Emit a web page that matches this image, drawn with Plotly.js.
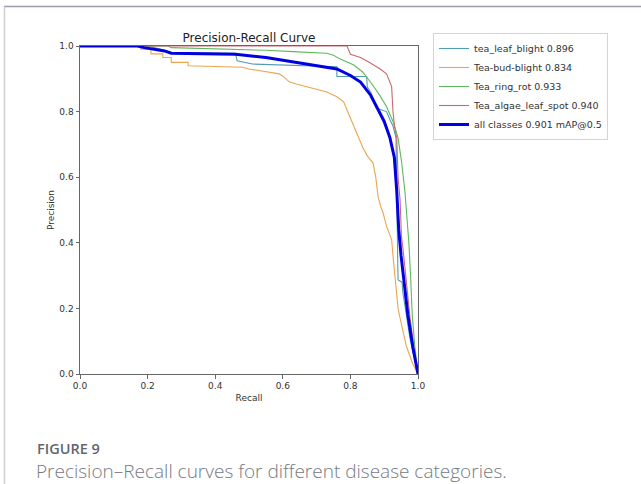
<!DOCTYPE html>
<html>
<head>
<meta charset="utf-8">
<script src="https://cdn.plot.ly/plotly-3.0.1.min.js"></script>
<style>
html,body{margin:0;padding:0;background:#fff;}
#chart{width:641px;height:484px;}
</style>
</head>
<body>
<div id="chart"></div>
<script>
// ---- data ----
var leafBlightRecall = [0, 0.2, 0.24, 0.27, 0.46, 0.465, 0.51, 0.63, 0.67, 0.76, 0.76, 0.848, 0.85, 0.86, 0.877, 0.907, 0.917, 0.926, 0.935, 0.937, 0.94, 0.941, 0.953, 0.955, 0.976, 1.0];
var leafBlightPrecision = [1.0, 1.0, 0.99, 0.98, 0.978, 0.955, 0.945, 0.942, 0.94, 0.937, 0.907, 0.907, 0.875, 0.86, 0.81, 0.80, 0.775, 0.756, 0.72, 0.48, 0.35, 0.287, 0.28, 0.25, 0.11, 0.0];

var budBlightRecall = [0, 0.18, 0.18, 0.21, 0.21, 0.245, 0.245, 0.27, 0.27, 0.32, 0.32, 0.48, 0.50, 0.53, 0.56, 0.59, 0.60, 0.62, 0.64, 0.67, 0.70, 0.73, 0.76, 0.78, 0.79, 0.80, 0.81, 0.825, 0.837, 0.85, 0.867, 0.875, 0.882, 0.89, 0.897, 0.907, 0.915, 0.922, 0.926, 0.932, 0.937, 0.941, 0.947, 0.955, 0.966, 0.985, 1.0];
var budBlightPrecision = [1.0, 1.0, 0.99, 0.99, 0.976, 0.976, 0.965, 0.965, 0.95, 0.95, 0.94, 0.935, 0.93, 0.925, 0.92, 0.915, 0.908, 0.89, 0.884, 0.876, 0.868, 0.86, 0.845, 0.83, 0.805, 0.78, 0.754, 0.72, 0.69, 0.665, 0.643, 0.60, 0.54, 0.51, 0.49, 0.45, 0.43, 0.41, 0.36, 0.30, 0.25, 0.20, 0.17, 0.13, 0.083, 0.03, 0.0];

var ringRotRecall = [0, 0.26, 0.27, 0.47, 0.55, 0.63, 0.71, 0.73, 0.75, 0.77, 0.81, 0.837, 0.863, 0.888, 0.907, 0.926, 0.941, 0.951, 0.961, 0.968, 0.973, 0.978, 0.983, 0.99, 1.0];
var ringRotPrecision = [1.0, 1.0, 0.995, 0.99, 0.987, 0.983, 0.98, 0.978, 0.972, 0.96, 0.942, 0.92, 0.885, 0.848, 0.815, 0.77, 0.72, 0.65, 0.56, 0.48, 0.40, 0.30, 0.18, 0.09, 0.0];

var algaeRecall = [0, 0.79, 0.80, 0.83, 0.858, 0.888, 0.907, 0.92, 0.922, 0.926, 0.93, 0.937, 0.941, 0.947, 0.951, 0.956, 0.966, 0.976, 0.988, 1.0];
var algaePrecision = [1.0, 1.0, 0.975, 0.965, 0.949, 0.93, 0.915, 0.88, 0.876, 0.80, 0.76, 0.72, 0.60, 0.53, 0.42, 0.378, 0.28, 0.175, 0.08, 0.0];

var allRecall = [0, 0.17, 0.19, 0.22, 0.25, 0.27, 0.46, 0.55, 0.63, 0.70, 0.76, 0.80, 0.83, 0.86, 0.88, 0.90, 0.917, 0.93, 0.937, 0.943, 0.95, 0.96, 0.97, 0.985, 1.0];
var allPrecision = [1.0, 1.0, 0.995, 0.99, 0.985, 0.978, 0.975, 0.965, 0.952, 0.942, 0.93, 0.91, 0.89, 0.85, 0.81, 0.77, 0.72, 0.66, 0.56, 0.44, 0.36, 0.27, 0.18, 0.08, 0.0];

var seriesNames = ["tea_leaf_blight 0.896", "Tea-bud-blight 0.834", "Tea_ring_rot 0.933", "Tea_algae_leaf_spot 0.940", "all classes 0.901 mAP@0.5"];
var xTicks = [0, 0.2, 0.4, 0.6, 0.8, 1.0];
var xTickText = ["0.0", "0.2", "0.4", "0.6", "0.8", "1.0"];
var yTicks = [0, 0.2, 0.4, 0.6, 0.8, 1.0];
var yTickText = ["0.0", "0.2", "0.4", "0.6", "0.8", "1.0"];

// ---- figure ----
var W = 641, H = 484;
var L = 80, R = 223, T = 46, B = 110;
var pw = W - L - R, ph = H - T - B;
function px(x){ return (x - L) / pw; }
function py(y){ return (H - B - y) / ph; }

var colors = ["#519cb0", "#eaa64e", "#5fb85f", "#c86a70", "#0000e0"];
var xs = [leafBlightRecall, budBlightRecall, ringRotRecall, algaeRecall, allRecall];
var ys = [leafBlightPrecision, budBlightPrecision, ringRotPrecision, algaePrecision, allPrecision];
var traces = [];
for (var i = 0; i < 5; i++) {
  traces.push({
    x: xs[i], y: ys[i], type: "scatter", mode: "lines",
    name: seriesNames[i],
    line: {color: colors[i], width: i === 4 ? 3 : 1.1, shape: "linear"}
  });
}

var axisCommon = {
  range: [0, 1], showgrid: false, zeroline: false,
  showline: true, linecolor: "#666", linewidth: 1, mirror: true,
  ticks: "outside", ticklen: 3.5, tickwidth: 1, tickcolor: "#666",
  tickfont: {family: "DejaVu Sans", size: 9, color: "#333"},
  tickmode: "array", fixedrange: true
};

var layout = {
  width: W, height: H,
  margin: {l: L, r: R, t: T, b: B, pad: 0},
  paper_bgcolor: "#fff", plot_bgcolor: "#fff",
  showlegend: true,
  title: {text: "Precision-Recall Curve", font: {family: "DejaVu Sans", size: 12, color: "#222"},
          x: 0.5, xref: "paper", xanchor: "center", y: 1, yref: "paper", yanchor: "bottom", pad: {b: 4}},
  xaxis: Object.assign({}, axisCommon, {tickvals: xTicks, ticktext: xTickText,
          title: {text: "Recall", font: {family: "DejaVu Sans", size: 9, color: "#333"}, standoff: 4}}),
  yaxis: Object.assign({}, axisCommon, {tickvals: yTicks, ticktext: yTickText,
          title: {text: "Precision", font: {family: "DejaVu Sans", size: 9, color: "#333"}, standoff: 3}}),
  legend: {x: px(433), y: py(33), xanchor: "left", yanchor: "top",
           bgcolor: "#fff", bordercolor: "#d4d4d4", borderwidth: 1,
           font: {family: "DejaVu Sans", size: 9.5, color: "#333"},
           itemwidth: 30, tracegroupgap: 0},
  shapes: [
    {type: "line", xref: "paper", yref: "paper", x0: px(4), x1: px(641), y0: py(6.5), y1: py(6.5),
     line: {color: "#9c9ca8", width: 1.5}},
    {type: "line", xref: "paper", yref: "paper", x0: px(4.5), x1: px(4.5), y0: py(6.5), y1: py(484),
     line: {color: "#cfcfd4", width: 1.5}}
  ],
  annotations: [
    {text: "FIGURE 9", xref: "paper", yref: "paper", x: px(35), y: py(448), xanchor: "left", yanchor: "middle",
     showarrow: false, font: {family: "Open Sans", size: 14.5, color: "#62666f", weight: 600}},
    {text: "Precision\u2013Recall curves for different disease categories.", xref: "paper", yref: "paper",
     x: px(34), y: py(471), xanchor: "left", yanchor: "middle",
     showarrow: false, font: {family: "Open Sans", size: 19, color: "#767a84", weight: 300}}
  ]
};

Plotly.newPlot("chart", traces, layout, {displayModeBar: false, staticPlot: true});
</script>
</body>
</html>
